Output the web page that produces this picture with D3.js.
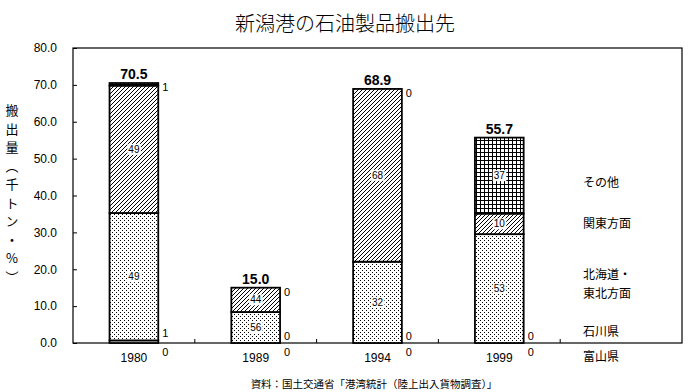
<!DOCTYPE html>
<html><head><meta charset="utf-8">
<script src="https://cdn.jsdelivr.net/npm/d3@7"></script>
<style>
html,body{margin:0;padding:0;background:#fff;}
svg{display:block;}
text{font-family:"Noto Sans CJK JP","DejaVu Sans",sans-serif;fill:#000;}
.num{font-family:"Liberation Sans","DejaVu Sans",sans-serif;}
</style></head>
<body>
<script>
// ---- data ----
const categories = ["1980", "1989", "1994", "1999"];
const seriesNames = ["富山県", "石川県", "北海道・東北方面", "関東方面", "その他"];
const totals = [70.5, 15.0, 68.9, 55.7];
const toyama   = [0, 0, 0, 0];
const ishikawa = [1, 0, 0, 0];
const hokkaido = [49, 56, 32, 53];
const kanto    = [49, 44, 68, 10];
const other    = [1, 0, 0, 37];
const yTicks = [0, 10, 20, 30, 40, 50, 60, 70, 80];
const title = "新潟港の石油製品搬出先";
const yTitle = "搬出量（千トン・%）";
const source = "資料：国土交通省「港湾統計（陸上出入貨物調査）」";
const legendLines = [["その他"], ["関東方面"], ["北海道・", "東北方面"], ["石川県"], ["富山県"]];

// ---- layout ----
const W = 688, H = 392;
const m = {left: 73, top: 48, right: 682, bottom: 343};
const legendY = [181, 222, 273, 330, 355];

const svg = d3.select("body").append("svg").attr("width", W).attr("height", H);
const defs = svg.append("defs");

// patterns
const pToyama = defs.append("pattern").attr("id","p0").attr("patternUnits","userSpaceOnUse").attr("width",4).attr("height",4);
pToyama.append("rect").attr("width",4).attr("height",4).attr("fill","#fff");
pToyama.append("line").attr("x1",0.5).attr("y1",0).attr("x2",0.5).attr("y2",4).attr("stroke","#000").attr("stroke-width",1);

const pIshi = defs.append("pattern").attr("id","p1").attr("patternUnits","userSpaceOnUse").attr("width",8).attr("height",3);
pIshi.append("rect").attr("width",8).attr("height",3).attr("fill","#fff");
pIshi.append("rect").attr("x",0).attr("y",1).attr("width",6).attr("height",1).attr("fill","#000");

const pDots = defs.append("pattern").attr("id","p2").attr("patternUnits","userSpaceOnUse").attr("width",4).attr("height",4);
pDots.append("rect").attr("width",4).attr("height",4).attr("fill","#fff");
pDots.append("rect").attr("x",0).attr("y",0).attr("width",1).attr("height",1).attr("fill","#000");
pDots.append("rect").attr("x",2).attr("y",2).attr("width",1).attr("height",1).attr("fill","#000");

const pHatch = defs.append("pattern").attr("id","p3").attr("patternUnits","userSpaceOnUse").attr("width",4).attr("height",4);
pHatch.append("rect").attr("width",4).attr("height",4).attr("fill","#fff");
pHatch.append("path").attr("d","M-1,1 l2,-2 M0,4 l4,-4 M3,5 l2,-2").attr("stroke","#000").attr("stroke-width",1);

const pGrid = defs.append("pattern").attr("id","p4").attr("patternUnits","userSpaceOnUse").attr("width",4).attr("height",4);
pGrid.append("rect").attr("width",4).attr("height",4).attr("fill","#fff");
pGrid.append("rect").attr("x",0).attr("y",0).attr("width",4).attr("height",1).attr("fill","#000");
pGrid.append("rect").attr("x",0).attr("y",0).attr("width",1).attr("height",4).attr("fill","#000");

const fills = ["url(#p0)","url(#p1)","url(#p2)","url(#p3)","url(#p4)"];

// scales
const x = d3.scaleBand().domain(categories.concat([""])).range([m.left, m.right]).padding(0);
const y = d3.scaleLinear().domain([0, 80]).range([m.bottom, m.top]);
const barW = x.bandwidth() * 0.4;

// data table
const seriesVals = [toyama, ishikawa, hokkaido, kanto, other];
const rows = categories.map((c, i) => {
  const r = {cat: c, total: totals[i]};
  seriesNames.forEach((s, k) => r[s] = seriesVals[k][i]);
  return r;
});
const stack = d3.stack().keys(seriesNames).value((d, key) => d[key] * d.total / 100);
const stacked = stack(rows);

// frame
svg.append("rect").attr("x", m.left).attr("y", m.top)
  .attr("width", m.right - m.left).attr("height", m.bottom - m.top)
  .attr("fill","none").attr("stroke","#000").attr("stroke-width",1.2);

// y axis
const yAxis = d3.axisLeft(y).tickValues(yTicks).tickSize(-4).tickPadding(16).tickFormat(d3.format(".1f"));
const gy = svg.append("g").attr("transform", `translate(${m.left},0)`).call(yAxis);
gy.select(".domain").remove();
gy.selectAll("text").attr("class","num").attr("font-size",12).attr("fill","#000");
gy.selectAll("line").attr("stroke","#000");

// x axis
const xAxis = d3.axisBottom(x).tickSize(0).tickPadding(10).tickFormat(d => d);
const gx = svg.append("g").attr("transform", `translate(0,${m.bottom})`).call(xAxis);
gx.select(".domain").remove();
gx.selectAll("text").attr("class","num").attr("font-size",12).attr("fill","#000");
// category boundary ticks (inside)
svg.append("g").selectAll("line").data(categories.concat([""]).slice(1)).join("line")
  .attr("x1", d => x(d)).attr("x2", d => x(d))
  .attr("y1", m.bottom).attr("y2", m.bottom - 4).attr("stroke","#000");

// bars
const gBars = svg.append("g");
stacked.forEach((layer, k) => {
  gBars.append("g").selectAll("rect").data(layer).join("rect")
    .attr("x", d => x(d.data.cat) + (x.bandwidth() - barW) / 2)
    .attr("width", barW)
    .attr("y", d => y(d[1]))
    .attr("height", d => Math.max(0, y(d[0]) - y(d[1])))
    .attr("fill", fills[k])
    .attr("stroke","#000").attr("stroke-width", d => (d[1]-d[0]) > 0 ? 1.8 : 0);
});

// segment labels
stacked.forEach((layer, k) => {
  layer.forEach(d => {
    const v = d.data[layer.key];
    const cx = x(d.data.cat) + x.bandwidth() / 2;
    if (v >= 5) {
      const cy = (y(d[0]) + y(d[1])) / 2;
      const g = svg.append("g");
      const t = g.append("text").attr("class","num").attr("x", cx).attr("y", cy)
        .attr("text-anchor","middle").attr("dominant-baseline","central")
        .attr("font-size",10).text(v);
      const bb = t.node().getBBox();
      g.insert("rect","text").attr("x", bb.x - 1).attr("y", bb.y).attr("width", bb.width + 2)
        .attr("height", bb.height).attr("fill","#fff");
    } else {
      const rx = x(d.data.cat) + (x.bandwidth() + barW) / 2 + 4;
      let cy;
      if (k === 0) cy = y(0) + 9;
      else if (k === seriesNames.length - 1) cy = y(d[1]) + 4;
      else cy = y(d[1]) - 7;
      svg.append("text").attr("class","num").attr("x", rx).attr("y", cy)
        .attr("dominant-baseline","central").attr("font-size",11).text(v);
    }
  });
});

// totals
svg.append("g").selectAll("text").data(rows).join("text")
  .attr("class","num")
  .attr("x", d => x(d.cat) + x.bandwidth() / 2)
  .attr("y", d => y(d.total) - 4)
  .attr("text-anchor","middle").attr("font-size",14).attr("font-weight","bold")
  .text(d => d.total.toFixed(1));

// legend labels (right side)
legendLines.forEach((lines, i) => {
  const t = svg.append("text").attr("x", 583).attr("y", legendY[i]).attr("font-size",12)
    .attr("dominant-baseline","central");
  lines.forEach((l, j) => t.append("tspan").attr("x", 583).attr("dy", j === 0 ? 0 : 19).text(l));
});

// title
svg.append("text").attr("x", 345).attr("y", 22).attr("text-anchor","middle")
  .attr("dominant-baseline","central").attr("font-size",20).attr("font-weight",300).text(title);

// y title vertical
svg.append("text")
  .attr("x", 12).attr("y", 104)
  .attr("font-size", 13)
  .style("writing-mode", "vertical-rl")
  .style("text-orientation", "upright")
  .style("letter-spacing", "5.5px")
  .text(yTitle);

// source
svg.append("text").attr("x", 374).attr("y", 383).attr("text-anchor","middle")
  .attr("dominant-baseline","central").attr("font-size",10.5).text(source);
</script>
</body></html>
